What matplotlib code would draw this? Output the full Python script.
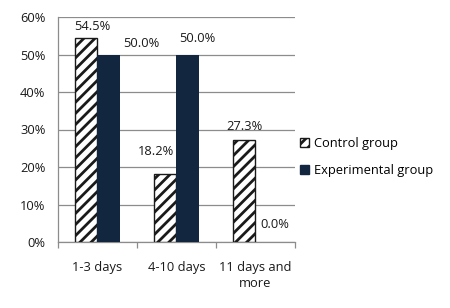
import matplotlib
matplotlib.use("Agg")
import matplotlib.pyplot as plt
import numpy as np
from matplotlib.patches import Patch

categories = ["1-3 days", "4-10 days", "11 days and\nmore"]
control = [54.5, 18.2, 27.3]
experimental = [50.0, 50.0, 0.0]
series_names = ["Control group", "Experimental group"]
yticks = [0, 10, 20, 30, 40, 50, 60]

# label offsets in pixels (style)
ctrl_off = [(6, 11), (-9, 22), (0, 13)]
exp_off = [(33, 11), (10, 16), (8, 18)]

NAVY = "#13263F"
FS = 9.3
plt.rcParams['font.family'] = ['Open Sans', 'DejaVu Sans']
plt.rcParams['hatch.linewidth'] = 2.0
plt.rcParams['hatch.color'] = NAVY

fig = plt.figure(figsize=(4.5, 3.08), dpi=100)
ax = fig.add_axes([58/450, 66/308, 237/450, 225/308])

x = np.arange(len(categories))
w = 1/3.5
px = 0.72  # points per pixel

b1 = ax.bar(x - w/2, control, width=w, color="white", edgecolor="#1a1a1a",
            hatch="///", linewidth=1.0, zorder=3)
b2 = ax.bar(x + w/2, experimental, width=w, color=NAVY, edgecolor=NAVY,
            linewidth=0, zorder=3)

for xi, v, (dx, dy) in zip(x - w/2, control, ctrl_off):
    ax.annotate(f"{v:.1f}%", (xi, v), xytext=(dx*px, dy*px), textcoords="offset points",
                ha="center", va="center", fontsize=FS, color="#1a1a1a")
for xi, v, (dx, dy) in zip(x + w/2, experimental, exp_off):
    ax.annotate(f"{v:.1f}%", (xi, v), xytext=(dx*px, dy*px), textcoords="offset points",
                ha="center", va="center", fontsize=FS, color="#1a1a1a")

ax.set_xlim(-0.5, len(categories) - 0.5)
ax.set_ylim(0, 60)
ax.set_yticks(yticks)
ax.set_yticklabels([f"{t}%" for t in yticks], fontsize=FS, color="#1a1a1a")
ax.yaxis.grid(True, color="#8c8c8c", linewidth=0.9, zorder=0)
ax.tick_params(axis="y", length=0, pad=9)

ax.set_xticks(x)
ax.set_xticklabels(categories, fontsize=FS, color="#1a1a1a", linespacing=1.3)
ax.tick_params(axis="x", length=0, pad=14)
ax.set_xticks(np.arange(len(categories) + 1) - 0.5, minor=True)
ax.tick_params(axis="x", which="minor", length=4, color="#8c8c8c", width=0.9)

for s in ["top", "right"]:
    ax.spines[s].set_visible(False)
for s in ["left", "bottom"]:
    ax.spines[s].set_color("#8c8c8c")
    ax.spines[s].set_linewidth(0.9)

handles = [Patch(facecolor="white", edgecolor="#1a1a1a", hatch="///", linewidth=1.0),
           Patch(facecolor=NAVY, edgecolor=NAVY)]
fig.legend(handles, series_names, loc="upper left", bbox_to_anchor=(300/450, 1 - 137/308),
           frameon=False, fontsize=FS, handlelength=0.7, handleheight=0.7,
           handletextpad=0.4, labelspacing=1.05, borderpad=0, borderaxespad=0)

fig.savefig("out.png", dpi=100)
